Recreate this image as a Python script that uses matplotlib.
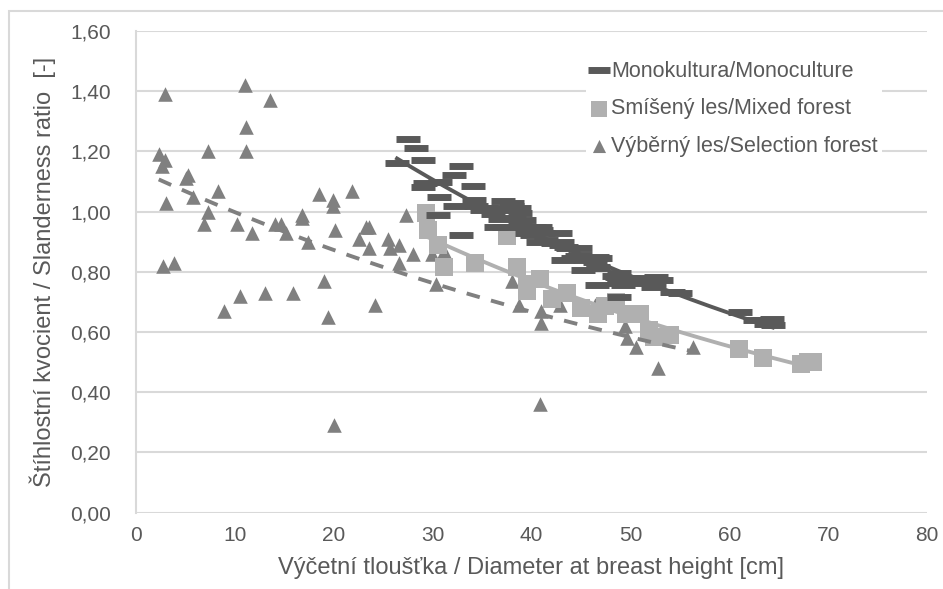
import numpy as np
import matplotlib
matplotlib.use("Agg")
import matplotlib.pyplot as plt
from matplotlib.patches import Rectangle
from matplotlib.ticker import FuncFormatter, MultipleLocator

plt.rcParams['font.family'] = ['Liberation Sans', 'DejaVu Sans']

# === Monokultura / Monoculture (DBH [cm], slenderness ratio) ===
mono_dbh = [27.5, 28.3, 29.05, 26.4, 32.9, 32.2, 29.2, 30.7, 29.0, 34.1,
            30.6, 34.2, 32.3, 34.4, 30.5, 32.9, 35.0, 35.4, 35.8, 36.1,
            36.4, 36.8, 36.8, 37.1, 37.2, 38.0, 38.0, 38.7, 38.2, 38.8,
            38.8, 39.2, 39.5, 39.5, 40.0, 40.3, 40.7, 40.85, 41.0, 41.2,
            41.5, 42.2, 42.9, 43.0, 43.1, 43.2, 43.5, 43.7, 44.2, 44.6,
            44.9, 44.9, 45.2, 45.4, 45.6, 46.4, 46.6, 46.7, 46.7, 46.9,
            46.6, 48.3, 48.6, 48.8, 48.8, 48.9, 48.9, 49.3, 49.8, 50.6,
            50.6, 51.6, 51.6, 51.8, 52.3, 52.4, 52.6, 53.1, 54.2, 54.3,
            55.0, 61.1, 62.6, 63.4, 63.7, 64.3, 64.4]
mono_ratio = [1.24, 1.21, 1.17, 1.16, 1.15, 1.12, 1.095, 1.10, 1.083, 1.086,
              1.048, 1.039, 1.019, 1.019, 0.989, 0.923, 1.004, 1.011, 1.011, 0.993,
              0.948, 1.004, 0.975, 1.034, 0.948, 1.019, 1.03, 1.011, 0.978, 0.995,
              0.956, 0.973, 0.95, 0.928, 0.923, 0.95, 0.90, 0.948, 0.94, 0.928,
              0.906, 0.895, 0.928, 0.89, 0.90, 0.84, 0.884, 0.879, 0.845, 0.851,
              0.879, 0.856, 0.807, 0.84, 0.845, 0.834, 0.849, 0.817, 0.812, 0.845,
              0.757, 0.787, 0.784, 0.795, 0.773, 0.762, 0.716, 0.757, 0.779, 0.773,
              0.762, 0.768, 0.779, 0.773, 0.751, 0.76, 0.784, 0.774, 0.734, 0.734,
              0.731, 0.668, 0.64, 0.64, 0.625, 0.642, 0.624]

# === Smíšený les / Mixed forest ===
mixed_dbh = [29.3, 29.5, 30.5, 31.2, 34.3, 37.5, 38.5, 39.5, 39.5, 40.9,
             42.1, 43.6, 45.0, 46.7, 47.4, 48.5, 49.6, 51.0, 51.9, 52.4,
             54.0, 61.0, 63.4, 67.3, 68.0, 68.5]
mixed_ratio = [0.995, 0.94, 0.89, 0.815, 0.83, 0.92, 0.815, 0.76, 0.735, 0.775,
               0.71, 0.73, 0.68, 0.66, 0.685, 0.70, 0.66, 0.66, 0.605, 0.585,
               0.59, 0.545, 0.515, 0.495, 0.50, 0.50]

# === Výběrný les / Selection forest ===
sel_dbh = [2.3, 2.6, 2.9, 2.9, 3.0, 2.7, 3.8, 5.1, 5.3, 5.8,
           6.9, 7.3, 7.3, 8.3, 8.9, 10.2, 10.5, 11.0, 11.1, 11.1,
           11.7, 13.0, 13.6, 14.1, 14.7, 15.2, 15.9, 16.8, 16.8, 17.4,
           18.5, 19.0, 19.4, 19.9, 19.9, 20.0, 20.1, 21.8, 22.6, 23.3,
           23.6, 23.6, 24.2, 25.5, 25.7, 26.6, 26.6, 27.3, 28.0, 29.9,
           30.3, 31.1, 38.0, 38.7, 40.9, 41.0, 41.0, 42.9, 46.4, 49.5,
           49.7, 50.6, 52.8, 56.3]
sel_ratio = [1.19, 1.15, 1.17, 1.39, 1.03, 0.82, 0.83, 1.11, 1.12, 1.05,
             0.96, 1.00, 1.20, 1.07, 0.67, 0.96, 0.72, 1.42, 1.28, 1.20,
             0.93, 0.73, 1.37, 0.96, 0.96, 0.93, 0.73, 0.99, 0.98, 0.90,
             1.06, 0.77, 0.65, 1.04, 1.02, 0.29, 0.94, 1.07, 0.91, 0.95,
             0.95, 0.88, 0.69, 0.91, 0.88, 0.89, 0.83, 0.99, 0.86, 0.86,
             0.76, 0.87, 0.77, 0.69, 0.36, 0.67, 0.63, 0.69, 0.69, 0.62,
             0.58, 0.55, 0.48, 0.55]

labels = ['Monokultura/Monoculture', 'Smíšený les/Mixed forest',
          'Výběrný les/Selection forest']

c_mono = '#595959'
c_mixed = '#b0b0b0'
c_sel = '#808080'
c_text = '#595959'
c_grid = '#d9d9d9'


def exp_trend(x, y, n=200):
    """Exponential trendline y = a*exp(b*x) fitted over the data range."""
    x = np.asarray(x)
    y = np.asarray(y)
    b, ln_a = np.polyfit(x, np.log(y), 1)
    xs = np.linspace(x.min(), x.max(), n)
    return xs, np.exp(ln_a) * np.exp(b * xs)


W, H = 943, 589
fig = plt.figure(figsize=(W / 100, H / 100), dpi=100)
ax = fig.add_axes([136 / W, 1 - 512.6 / H, (927 - 136) / W, (512.6 - 31) / H])

# outer chart frame (left and top edges are inside the image)
fig.patches.append(Rectangle((9 / W, -0.5), 1.5, 0.5 + (H - 11) / H,
                             transform=fig.transFigure, fill=False,
                             edgecolor='#d9d9d9', lw=1.5, zorder=0))

ax.scatter(sel_dbh, sel_ratio, marker='^', s=110, color=c_sel, lw=0, zorder=3,
           label=labels[2])
ax.scatter(mixed_dbh, mixed_ratio, marker='s', s=150, color=c_mixed, lw=0, zorder=3,
           label=labels[1])
ax.plot(mono_dbh, mono_ratio, ls='none', marker='_', ms=17, mew=5, color=c_mono,
        zorder=4, label=labels[0])

xs, ys = exp_trend(sel_dbh, sel_ratio)
ax.plot(xs, ys, color=c_sel, lw=2.8, ls=(0, (3.5, 3)), zorder=5)
xs, ys = exp_trend(mixed_dbh, mixed_ratio)
ax.plot(xs, ys, color=c_mixed, lw=2.8, zorder=5)
xs, ys = exp_trend(mono_dbh, mono_ratio)
ax.plot(xs, ys, color=c_mono, lw=2.8, zorder=5)

ax.set_xlim(0, 80)
ax.set_ylim(0, 1.6)
ax.xaxis.set_major_locator(MultipleLocator(10))
ax.yaxis.set_major_locator(MultipleLocator(0.2))
ax.yaxis.set_major_formatter(FuncFormatter(lambda v, p: f'{v:.2f}'.replace('.', ',')))
ax.grid(axis='y', color=c_grid, lw=1.5)
ax.set_axisbelow(True)
for side in ['top', 'right', 'bottom']:
    ax.spines[side].set_visible(False)
ax.spines['left'].set_color(c_grid)
ax.spines['left'].set_linewidth(1.5)
ax.tick_params(length=0, labelsize=15, colors=c_text, pad=18)
ax.tick_params(axis='x', pad=10)

ax.set_xlabel('Výčetní tloušťka / Diameter at breast height [cm]', fontsize=17,
              color=c_text, labelpad=8)
ax.set_ylabel('Štíhlostní kvocient / Slanderness ratio  [-]', fontsize=17,
              color=c_text, labelpad=10)

handles, labs = ax.get_legend_handles_labels()
order = [labs.index(l) for l in labels]
leg = ax.legend([handles[i] for i in order], [labs[i] for i in order],
                loc='upper left', bbox_to_anchor=(586 / W, 1 - 57 / H),
                bbox_transform=fig.transFigure, frameon=True, fancybox=False,
                edgecolor='none', facecolor='white', framealpha=1,
                fontsize=15.5, labelcolor=c_text, handlelength=0.8,
                handletextpad=0.15, labelspacing=0.75, borderpad=0.2,
                borderaxespad=0, markerscale=0.9)

fig.savefig('out.png', dpi=100, facecolor='white')
